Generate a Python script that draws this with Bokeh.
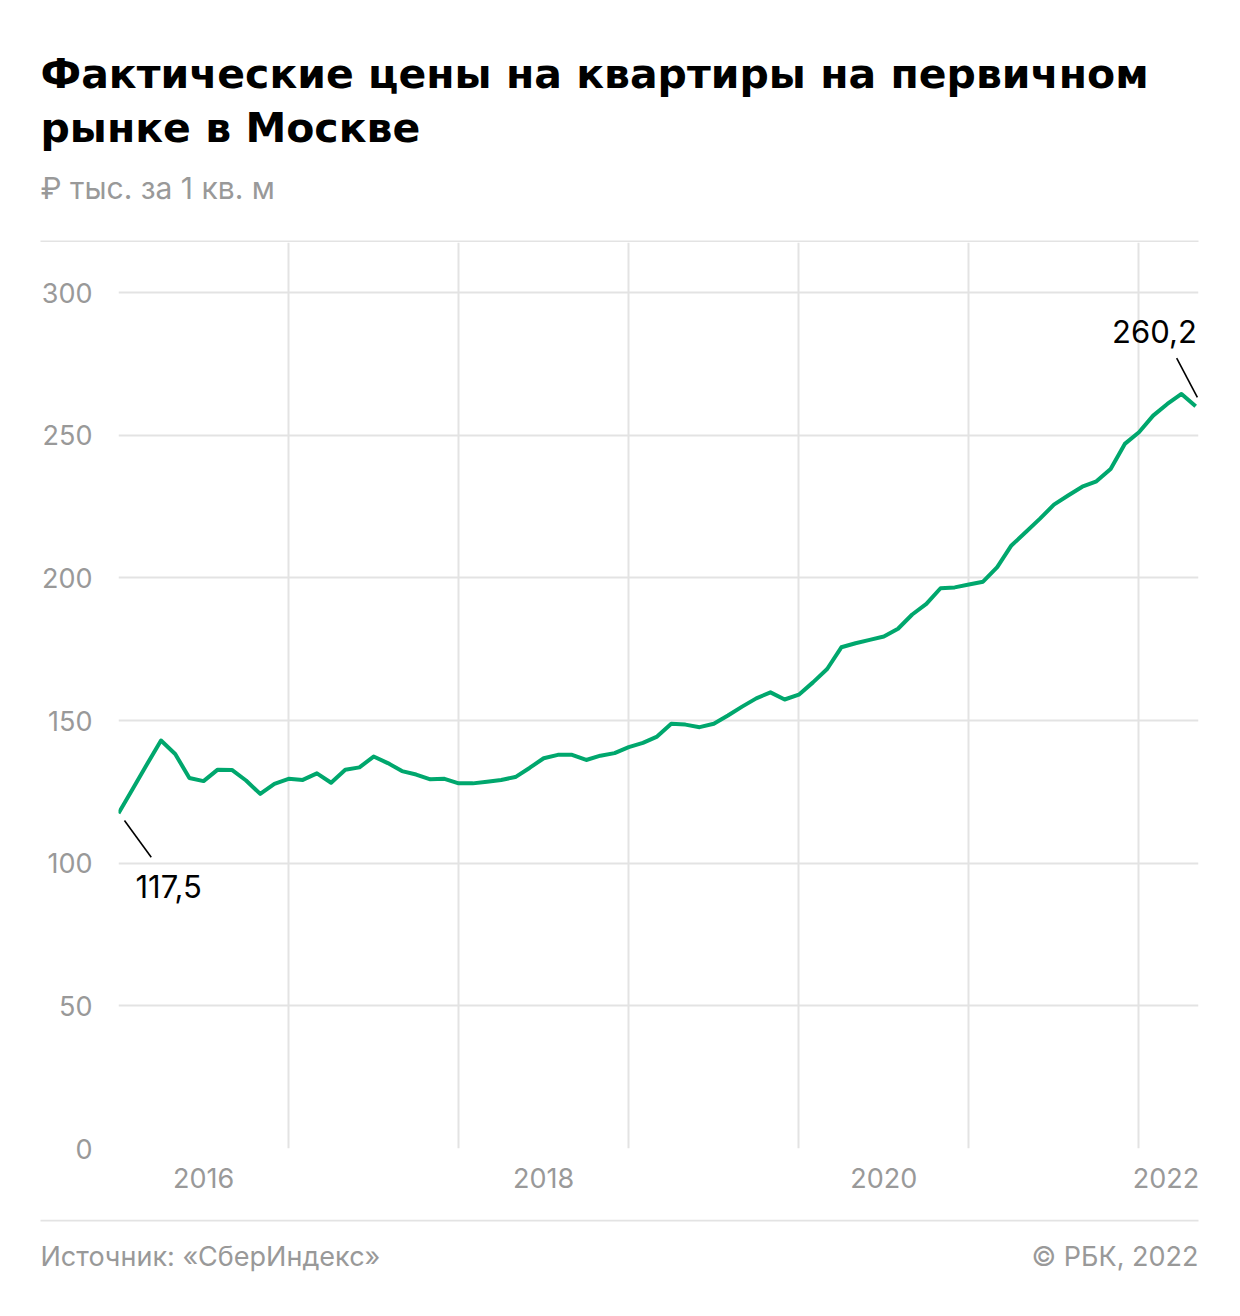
from bokeh.plotting import figure
from bokeh.models import Range1d, FixedTicker, Label, ColumnDataSource
from bokeh.layouts import column
from bokeh.core.properties import value
from bokeh.embed import file_html
from bokeh.resources import INLINE

# Monthly prices, Jan 2016 .. May 2022 (thousand RUB per sq. m)
prices = [
    117.5, 126.0, 134.6, 143.0, 138.3, 129.9, 128.8, 132.8, 132.7, 129.0, 124.3, 127.8,
    129.6, 129.2, 131.5, 128.2, 132.8, 133.6, 137.4, 135.1, 132.3, 131.1, 129.4, 129.6,
    128.0, 128.0, 128.6, 129.2, 130.2, 133.4, 136.8, 138.0, 138.0, 136.2, 137.7, 138.6,
    140.7, 142.2, 144.4, 148.9, 148.6, 147.7, 148.9, 151.8, 154.9, 157.8, 159.9, 157.4,
    159.1, 163.4, 168.1, 175.7, 177.1, 178.3, 179.5, 182.2, 187.2, 190.9, 196.4, 196.7,
    197.7, 198.7, 203.8, 211.4, 216.0, 220.7, 225.7, 228.9, 232.0, 233.9, 238.2, 247.0,
    251.1, 256.9, 261.0, 264.5, 260.2,
]
months = list(range(len(prices)))  # month index from Jan 2016

year_tick_pos = [6, 30, 54, 73.9]
year_labels = ["2016", "2018", "2020", "2022"]
year_grid = [0, 12, 24, 36, 48, 60, 72]
y_ticks = [0, 50, 100, 150, 200, 250, 300]

title_lines = ["Фактические цены на квартиры на первичном", "рынке в Москве"]
subtitle = "₽ тыс. за 1 кв. м"
source_text = "Источник: «СберИндекс»"
copyright_text = "© РБК, 2022"
first_label = "117,5"
last_label = "260,2"

FONT = "Inter"
TITLE_FONT = "DejaVu Sans"
GRAY = "#999999"
GRID = "#e3e3e3"
GREEN = "#00a76d"
W = 1240


def blank_fig(h):
    f = figure(width=W, height=h, output_backend="svg", toolbar_location=None,
               x_range=Range1d(0, W), y_range=Range1d(h, 0),
               min_border=0, min_border_left=0, min_border_right=0,
               min_border_top=0, min_border_bottom=0)
    f.axis.visible = False
    f.grid.visible = False
    f.outline_line_color = None
    f.background_fill_color = "white"
    f.border_fill_color = "white"
    try:
        f.frame_align = False
    except Exception:
        pass
    return f


# ---------- header ----------
HH = 242
head = blank_fig(HH)
head.text(x=[40, 40], y=[73, 127], text=title_lines, text_font=value(TITLE_FONT),
          text_font_size="41px", text_font_style="bold", text_color="black",
          text_baseline="alphabetic", text_align="left")
head.text(x=[40], y=[187], text=[subtitle], text_font=value(FONT),
          text_font_size="30px", text_color=GRAY, text_baseline="alphabetic")
head.segment(x0=[40], y0=[241], x1=[1198], y1=[241], line_color=GRID, line_width=2)

# ---------- main chart ----------
FRAME_H = 1148 - 242
MH = 1219 - 242
p = figure(width=W, height=MH, output_backend="svg", toolbar_location=None,
           x_range=Range1d(0, 76.2), y_range=Range1d(0, 317.6),
           min_border_left=118, min_border_right=W - 1198, min_border_top=0,
           min_border_bottom=MH - FRAME_H)
p.outline_line_color = None
p.background_fill_color = "white"
p.border_fill_color = "white"

for ax in (p.xaxis, p.yaxis):
    ax.axis_line_color = None
    ax.major_tick_line_color = None
    ax.minor_tick_line_color = None
    ax.major_tick_in = 0
    ax.major_tick_out = 0
    ax.major_label_text_font = FONT
    ax.major_label_text_font_size = "27px"
    ax.major_label_text_color = GRAY

p.yaxis.ticker = FixedTicker(ticks=y_ticks)
p.yaxis.major_label_standoff = 26
p.xaxis.ticker = FixedTicker(ticks=year_tick_pos)
p.xaxis.major_label_overrides = {k: v for k, v in zip(year_tick_pos, year_labels)}
p.xaxis.major_label_standoff = 19

p.xgrid.ticker = FixedTicker(ticks=year_grid)
p.xgrid.grid_line_color = GRID
p.xgrid.grid_line_width = 2
p.ygrid.grid_line_color = GRID
p.ygrid.grid_line_width = 2

src = ColumnDataSource(dict(x=months, y=prices))
p.line("x", "y", source=src, line_color=GREEN, line_width=4, line_join="round")

x0, v0 = months[0], prices[0]
x1, v1 = months[-1], prices[-1]
p.segment(x0=[x0 + 0.42, x1 - 1.34], y0=[v0 - 2.5, v1 + 16.9],
          x1=[x0 + 2.31, x1 + 0.12], y1=[v0 - 15.4, v1 + 3.1],
          line_color="black", line_width=1.6)
p.add_layout(Label(x=x0 + 1.2, y=v0 - 25.6, text=first_label, text_font=FONT,
                   text_font_size="31px", text_color="black", text_baseline="alphabetic"))
p.add_layout(Label(x=x1 + 0.08, y=v1 + 26.3, text=last_label, text_font=FONT,
                   text_font_size="31px", text_color="black", text_align="right",
                   text_baseline="alphabetic"))

# ---------- footer ----------
FH = 96
foot = blank_fig(FH)
foot.segment(x0=[40], y0=[1], x1=[1198], y1=[1], line_color=GRID, line_width=2)
foot.text(x=[40], y=[37], text=[source_text], text_font=value(FONT),
          text_font_size="27px", text_color=GRAY, text_baseline="alphabetic")
foot.text(x=[1198], y=[37], text=[copyright_text], text_font=value(FONT),
          text_font_size="27px", text_color=GRAY, text_baseline="alphabetic",
          text_align="right")

layout = column(head, p, foot, spacing=0)
open("out.html", "w").write(file_html(layout, INLINE))
